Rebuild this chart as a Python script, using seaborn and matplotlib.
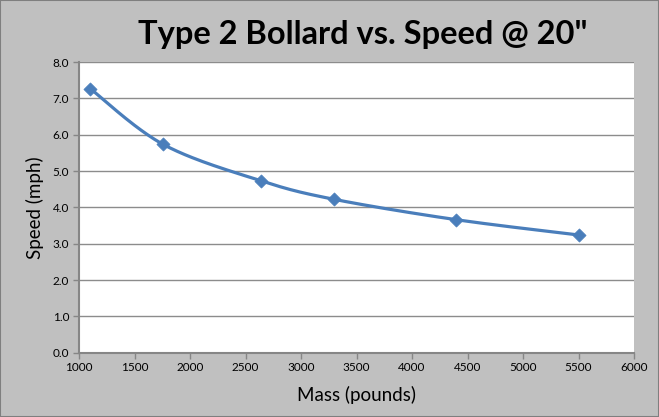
import numpy as np
import pandas as pd
import matplotlib
matplotlib.use("Agg")
import matplotlib.pyplot as plt
import seaborn as sns

mass = [1100, 1760, 2640, 3300, 4400, 5500]
speed = [7.27, 5.73, 4.73, 4.22, 3.66, 3.24]
x_ticks = [1000, 1500, 2000, 2500, 3000, 3500, 4000, 4500, 5000, 5500, 6000]
y_ticks = [0, 1, 2, 3, 4, 5, 6, 7, 8]
title = 'Type 2 Bollard vs. Speed @ 20"'
xlabel = "Mass (pounds)"
ylabel = "Speed (mph)"

sns.set_theme(style="white")
plt.rcParams['font.family'] = ['Lato', 'DejaVu Sans']

BLUE = "#4A7EBB"
BG = "#C0C0C0"

def smooth(xs, ys, n=40):
    # Excel-style smoothed line (Catmull-Rom Bezier) for drawing only
    xs = np.asarray(xs, float); ys = np.asarray(ys, float)
    px = np.concatenate([[xs[0]], xs, [xs[-1]]])
    py = np.concatenate([[ys[0]], ys, [ys[-1]]])
    ox, oy = [], []
    t = np.linspace(0, 1, n)
    for i in range(1, len(px) - 2):
        p0 = np.array([px[i], py[i]]); p3 = np.array([px[i+1], py[i+1]])
        p1 = p0 + (np.array([px[i+1], py[i+1]]) - np.array([px[i-1], py[i-1]])) / 6
        p2 = p3 - (np.array([px[i+2], py[i+2]]) - np.array([px[i], py[i]])) / 6
        b = ((1-t)**3)[:, None]*p0 + (3*(1-t)**2*t)[:, None]*p1 + (3*(1-t)*t**2)[:, None]*p2 + (t**3)[:, None]*p3
        ox.extend(b[:, 0]); oy.extend(b[:, 1])
    return np.array(ox), np.array(oy)

fig = plt.figure(figsize=(6.59, 4.17), dpi=100, facecolor=BG)
ax = fig.add_axes([79/659, 1-352.7/417, (634-79)/659, (352.7-62)/417])
ax.set_facecolor("white")

sx, sy = smooth(mass, speed)
curve = pd.DataFrame({"x": sx, "y": sy})
pts = pd.DataFrame({"Mass": mass, "Speed": speed})
sns.lineplot(data=curve, x="x", y="y", ax=ax, color=BLUE, linewidth=2.3, sort=False, estimator=None)
sns.scatterplot(data=pts, x="Mass", y="Speed", ax=ax, color=BLUE, marker="D", s=45, edgecolor=BLUE, linewidth=0.5, zorder=5)

ax.set_xlim(1000, 6000)
ax.set_ylim(0, 8)
ax.set_xticks(x_ticks)
ax.set_xticklabels([str(v) for v in x_ticks])
ax.set_yticks(y_ticks)
ax.set_yticklabels([f"{v:.1f}" for v in y_ticks])
ax.yaxis.grid(True, color="#8C8C8C", linewidth=1.0)
ax.xaxis.grid(False)
for s in ["top", "right"]:
    ax.spines[s].set_visible(False)
for s in ["left", "bottom"]:
    ax.spines[s].set_color("#868686")
    ax.spines[s].set_linewidth(1.5)
ax.tick_params(axis="both", which="both", direction="out", length=4, width=1, color="#868686",
               labelsize=8.5, labelcolor="black", bottom=True, left=True, pad=3)
ax.set_xlabel(xlabel, fontsize=13.5, color="black", labelpad=9)
ax.set_ylabel(ylabel, fontsize=13.5, color="black", labelpad=6)
fig.text(0.551, 0.918, title, ha="center", va="center", fontsize=23.5, fontweight="bold", color="black")

fig.patches.append(plt.Rectangle((0, 0), 1, 1, transform=fig.transFigure, fill=False,
                                 edgecolor="#7F7F7F", linewidth=1.5))
fig.savefig("out.png", dpi=100, facecolor=BG)
